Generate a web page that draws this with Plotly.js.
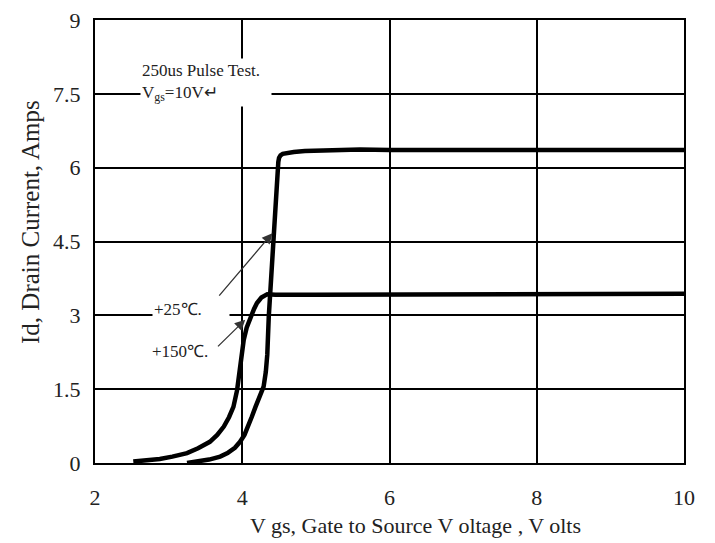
<!DOCTYPE html>
<html>
<head>
<meta charset="utf-8">
<script src="https://cdn.plot.ly/plotly-3.0.1.min.js"></script>
<style>html,body{margin:0;padding:0;background:#fff;}#chart{width:715px;height:543px;}</style>
</head>
<body>
<div id="chart"></div>
<script>
// 25 °C curve
var vgs25 = [3.25, 3.4, 3.55, 3.7, 3.8, 3.9, 3.97, 4.03, 4.08, 4.13, 4.18, 4.22, 4.26, 4.29, 4.32, 4.34, 4.36, 4.38, 4.40, 4.43, 4.46, 4.48, 4.49, 4.50, 4.52, 4.55, 4.6, 4.7, 4.85, 5.0, 5.3, 5.6, 6.0, 8.0, 10.0];
var id25  = [0.0, 0.03, 0.07, 0.13, 0.2, 0.31, 0.43, 0.57, 0.73, 0.94, 1.14, 1.28, 1.4, 1.55, 1.85, 2.2, 2.97, 3.5, 3.99, 4.67, 5.35, 5.9, 6.12, 6.2, 6.25, 6.28, 6.3, 6.32, 6.34, 6.35, 6.37, 6.37, 6.36, 6.36, 6.36];
// 150 °C curve
var vgs150 = [2.52, 2.7, 2.88, 3.05, 3.25, 3.4, 3.56, 3.66, 3.75, 3.82, 3.88, 3.93, 3.96, 3.99, 4.02, 4.06, 4.11, 4.16, 4.2, 4.26, 4.34, 4.45, 5.0, 6.0, 7.0, 8.0, 10.0];
var id150  = [0.03, 0.05, 0.08, 0.13, 0.2, 0.3, 0.43, 0.57, 0.74, 0.93, 1.14, 1.48, 1.8, 2.15, 2.5, 2.75, 2.97, 3.13, 3.25, 3.36, 3.43, 3.42, 3.42, 3.42, 3.43, 3.44, 3.44];
var xTicks = [2, 4, 6, 8, 10];
var yTicks = [0, 1.5, 3, 4.5, 6, 7.5, 9];
var yTickText = ['0', '1.5', '3', '4.5', '6', '7.5', '9'];

var serif = 'Liberation Serif, Times New Roman, serif';
var traces = [
  {x: vgs25, y: id25, mode: 'lines', line: {color: '#000', width: 4.5}, hoverinfo: 'skip'},
  {x: vgs150, y: id150, mode: 'lines', line: {color: '#000', width: 4.5}, hoverinfo: 'skip'}
];
var annFont = {family: serif, size: 17, color: '#222'};
var tickFont = {family: serif, size: 22, color: '#222'};
var layout = {
  width: 715, height: 543,
  margin: {l: 95, r: 31, t: 20, b: 80},
  paper_bgcolor: '#fff', plot_bgcolor: '#fff',
  showlegend: false,
  xaxis: {
    range: [2, 10], tickvals: xTicks, ticktext: xTicks.map(String),
    showgrid: true, gridcolor: '#000', gridwidth: 2,
    zeroline: false, showline: true, linecolor: '#000', linewidth: 2, mirror: true,
    ticks: 'outside', ticklen: 14, tickcolor: '#fff',
    tickfont: tickFont
  },
  yaxis: {
    range: [0, 9], tickvals: yTicks, ticktext: yTickText,
    showgrid: true, gridcolor: '#000', gridwidth: 2,
    zeroline: false, showline: true, linecolor: '#000', linewidth: 2, mirror: true,
    ticks: 'outside', ticklen: 8, tickcolor: '#fff',
    tickfont: tickFont
  },
  annotations: [
    {x: 0, y: 0, xref: 'paper', yref: 'paper', xanchor: 'center', yanchor: 'middle', showarrow: false,
     text: 'V gs, Gate to Source V oltage , V olts', font: {family: serif, size: 22, color: '#222'}},
    {x: 0, y: 0, xref: 'paper', yref: 'paper', xanchor: 'center', yanchor: 'middle', showarrow: false, textangle: -90,
     text: 'Id, Drain Current, Amps', font: {family: serif, size: 25, color: '#222'}},
    {x: 2.61, y: 8.23, xref: 'x', yref: 'y', xanchor: 'left', yanchor: 'top', showarrow: false,
     text: '250us Pulse Test.<br>V<sub>gs</sub>=10V↵', align: 'left', valign: 'middle',
     width: 128, height: 45, bgcolor: '#fff', borderpad: 1, font: annFont},
    {x: 2.78, y: 3.12, xref: 'x', yref: 'y', xanchor: 'left', yanchor: 'middle', showarrow: false,
     text: '+25℃.', align: 'left', width: 74, height: 20, bgcolor: '#fff', borderpad: 1, font: annFont},
    {x: 2.75, y: 2.28, xref: 'x', yref: 'y', xanchor: 'left', yanchor: 'middle', showarrow: false,
     text: '+150℃.', align: 'left', width: 66, height: 20, bgcolor: '#fff', borderpad: 1, font: annFont},
    {x: 4.41, y: 4.67, xref: 'x', yref: 'y', axref: 'x', ayref: 'y', ax: 3.67, ay: 3.37,
     text: '', showarrow: true, arrowhead: 2, arrowsize: 1.6, arrowwidth: 1.3, arrowcolor: '#333'},
    {x: 4.04, y: 2.91, xref: 'x', yref: 'y', axref: 'x', ayref: 'y', ax: 3.65, ay: 2.34,
     text: '', showarrow: true, arrowhead: 2, arrowsize: 1.6, arrowwidth: 1.3, arrowcolor: '#333'}
  ]
};
// place the axis-title annotations at their pixel centres
var pw = 715 - 95 - 31, ph = 543 - 20 - 80;
layout.annotations[0].x = (415 - 95) / pw; layout.annotations[0].y = (463 - 525) / ph;
layout.annotations[1].x = (30 - 95) / pw;  layout.annotations[1].y = (463 - 222) / ph;
Plotly.newPlot('chart', traces, layout, {displayModeBar: false, staticPlot: true});
</script>
</body>
</html>
